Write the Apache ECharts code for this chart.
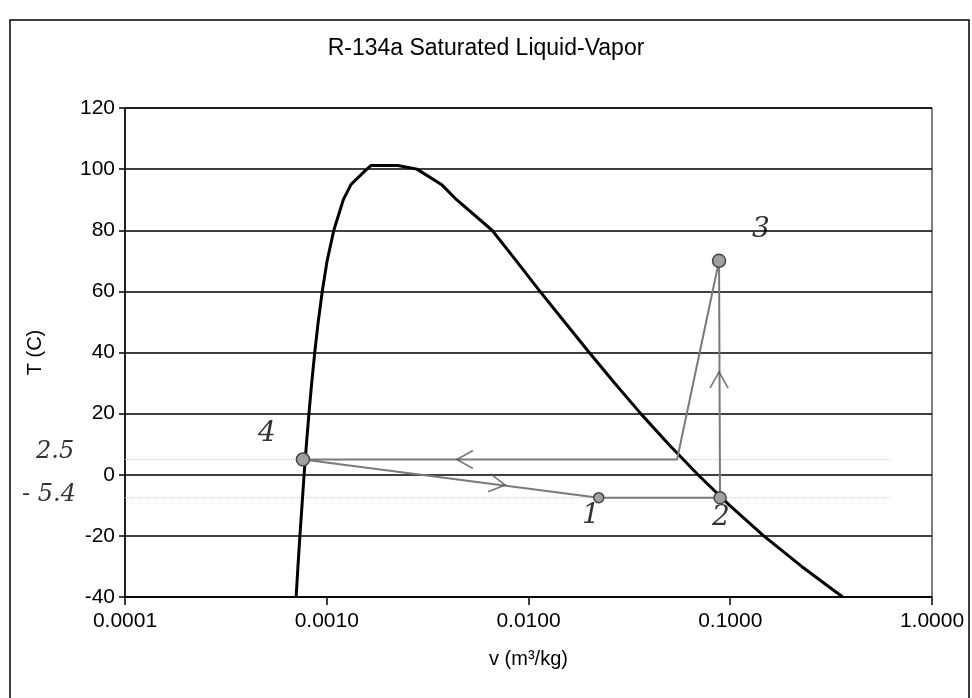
<!DOCTYPE html>
<html>
<head>
<meta charset="utf-8">
<script src="https://cdn.jsdelivr.net/npm/echarts@6/dist/echarts.min.js"></script>
<style>html,body{margin:0;padding:0;background:#fff}#c{width:972px;height:698px}</style>
</head>
<body>
<div id="c"></div>
<script>
// Saturation dome (T in C, v in m3/kg)
const satT = [-40, -30, -20, -10, 0, 10, 20, 30, 40, 50, 60, 70, 80, 90, 95, 100];
const vLiquid = [0.000705, 0.000720, 0.000736, 0.000754, 0.000772, 0.000793, 0.000816, 0.000842, 0.000872, 0.000907, 0.000950, 0.001004, 0.001084, 0.001208, 0.00132, 0.00158];
const vVapor = [0.3608, 0.2259, 0.1465, 0.0993, 0.0692, 0.0495, 0.0360, 0.0267, 0.0200, 0.0151, 0.0114, 0.0087, 0.0066, 0.0044, 0.0037, 0.0028];
const peakT = 101.2;
const peakV = [0.00166, 0.00225];

// Refrigeration cycle 4 -> 1 -> 2 -> 3 -> (sat. vapor) -> 4
const cycleV = [0.000762, 0.0223, 0.089, 0.088, 0.0545, 0.000762];
const cycleT = [5, -7.5, -7.5, 70, 5, 5];
const cycleMarker = [13, 10, 12, 13, 0, 0];

// Hand-drawn direction arrows
const arrowV = [0.00484, 0.0070, 0.088];
const arrowT = [5, -3, 31];
const arrowRot = [0, 172, -90];

// Faint guide lines
const guideV = [0.0001, 0.62];
const guideT = [5, -7.5];

// Axis ticks
const xTicks = [0.0001, 0.001, 0.01, 0.1, 1];
const yMin = -40, yMax = 120, yStep = 20;

const dome = [];
for (let i = 0; i < satT.length; i++) dome.push([vLiquid[i], satT[i]]);
dome.push([peakV[0], peakT], [peakV[1], peakT]);
for (let i = satT.length - 1; i >= 0; i--) dome.push([vVapor[i], satT[i]]);

const cycle = cycleV.map((v, i) => ({value: [v, cycleT[i]], symbolSize: cycleMarker[i]}));
const arrows = arrowV.map((v, i) => ({value: [v, arrowT[i]], symbolRotate: arrowRot[i]}));

const font = 'Liberation Sans, Arial, sans-serif';
const hand = 'DejaVu Serif, serif';

const chart = echarts.init(document.getElementById('c'));
chart.setOption({
  animation: false,
  backgroundColor: '#fff',
  title: {
    text: 'R-134a Saturated Liquid-Vapor',
    left: 'center', top: 32,
    textStyle: {fontFamily: font, fontSize: 23, fontWeight: 'normal', color: '#000'}
  },
  grid: {left: 125, right: 40, top: 108, bottom: 101, show: true, borderColor: '#000', borderWidth: 1},
  xAxis: {
    type: 'log', logBase: 10, min: xTicks[0], max: xTicks[xTicks.length - 1],
    name: 'v (m³/kg)', nameLocation: 'middle', nameGap: 52,
    nameTextStyle: {fontFamily: font, fontSize: 20, color: '#000'},
    axisLine: {onZero: false, lineStyle: {color: '#000', width: 1.5}},
    axisTick: {show: true, length: 8, lineStyle: {color: '#000', width: 1.5}},
    minorTick: {show: false},
    splitLine: {show: false},
    axisLabel: {fontFamily: font, fontSize: 21, color: '#000', margin: 14, formatter: v => Number(v).toFixed(4)}
  },
  yAxis: {
    type: 'value', min: yMin, max: yMax, interval: yStep,
    name: 'T (C)', nameLocation: 'middle', nameGap: 80, nameRotate: 90,
    nameTextStyle: {fontFamily: font, fontSize: 20, color: '#000'},
    axisLine: {show: true, lineStyle: {color: '#000', width: 1.5}},
    axisTick: {show: true, length: 6, lineStyle: {color: '#000', width: 1.5}},
    splitLine: {lineStyle: {color: '#000', width: 1.5}},
    axisLabel: {fontFamily: font, fontSize: 21, color: '#000', margin: 10}
  },
  series: [
    {
      type: 'line', data: [[guideV[0], guideT[0]], [guideV[1], guideT[0]]],
      showSymbol: false, lineStyle: {color: '#c8c8c8', width: 1, type: 'dotted'}, z: 1
    },
    {
      type: 'line', data: [[guideV[0], guideT[1]], [guideV[1], guideT[1]]],
      showSymbol: false, lineStyle: {color: '#c8c8c8', width: 1, type: 'dotted'}, z: 1
    },
    {
      type: 'line', data: dome, showSymbol: false, smooth: false,
      lineStyle: {color: '#000', width: 3}, z: 3
    },
    {
      type: 'line', data: cycle, symbol: 'circle', showSymbol: true,
      lineStyle: {color: '#7a7a7a', width: 2},
      itemStyle: {color: '#a0a0a0', borderColor: '#444', borderWidth: 1.5}, z: 4
    },
    {
      type: 'scatter', data: arrows,
      symbol: 'path://M12,0 L0,6 L12,12', symbolSize: [16, 18],
      itemStyle: {color: 'none', borderColor: '#555', borderWidth: 1.6}, z: 5
    }
  ],
  graphic: [
    {type: 'rect', shape: {x: 10, y: 20, width: 959, height: 690}, style: {fill: 'none', stroke: '#000', lineWidth: 1.5}, silent: true},
    {type: 'text', left: 258, top: 420, style: {text: '4', font: 'italic 28px ' + hand, fill: '#333'}},
    {type: 'text', left: 752, top: 216, style: {text: '3', font: 'italic 28px ' + hand, fill: '#333'}},
    {type: 'text', left: 582, top: 502, style: {text: '1', font: 'italic 28px ' + hand, fill: '#333'}},
    {type: 'text', left: 712, top: 504, style: {text: '2', font: 'italic 28px ' + hand, fill: '#333'}},
    {type: 'text', left: 36, top: 440, style: {text: '2.5', font: 'italic 24px ' + hand, fill: '#333'}},
    {type: 'text', left: 22, top: 483, style: {text: '- 5.4', font: 'italic 24px ' + hand, fill: '#333'}}
  ]
});
</script>
</body>
</html>
